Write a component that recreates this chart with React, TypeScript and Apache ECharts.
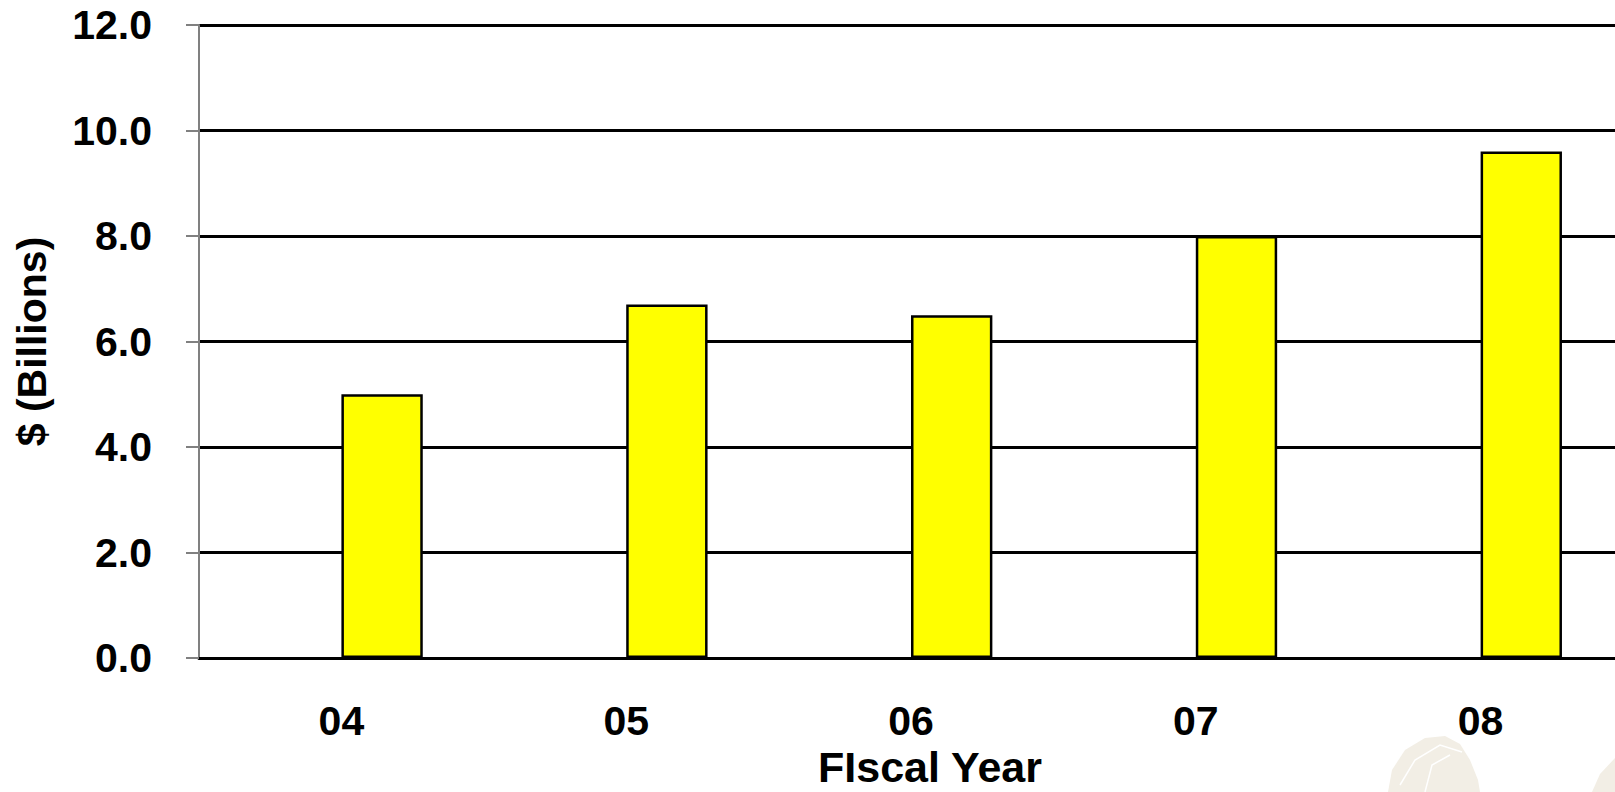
import React, { useEffect, useRef } from "react";
import * as echarts from "echarts";

// Fiscal years on the category axis
const fiscalYears = ["04", "05", "06", "07", "08"];
// Spending in billions of dollars per fiscal year
const spending = [5.0, 6.7, 6.5, 8.0, 9.6];
// Empty companion series, which keeps each bar in the right half of its slot
const placeholder = [null, null, null, null, null];
// Value axis range and step
const yMin = 0;
const yMax = 12;
const yStep = 2;

const font = "'Liberation Sans', Arial, Helvetica, sans-serif";

export default function App() {
  const ref = useRef<HTMLDivElement>(null);

  useEffect(() => {
    if (!ref.current) return;
    const chart = echarts.init(ref.current, null, { renderer: "svg" });
    chart.setOption({
      animation: false,
      backgroundColor: "#ffffff",
      grid: {
        left: 199,
        top: 25,
        bottom: 134,
        right: -8,
        containLabel: false,
        outerBoundsMode: "none",
      },
      xAxis: {
        type: "category",
        data: fiscalYears,
        name: "FIscal Year",
        nameLocation: "middle",
        nameGap: 91,
        nameTextStyle: {
          fontFamily: font,
          fontWeight: "bold",
          fontSize: 43,
          lineHeight: 34,
          color: "#000",
          verticalAlign: "top",
          padding: [0, 0, 0, 38],
        },
        axisLine: { show: true, lineStyle: { color: "#000", width: 3 } },
        axisTick: { show: false },
        axisLabel: {
          margin: 42,
          fontFamily: font,
          fontWeight: "bold",
          fontSize: 41,
          color: "#000",
        },
        splitLine: { show: false },
      },
      yAxis: {
        type: "value",
        min: yMin,
        max: yMax,
        interval: yStep,
        name: "$ (Billions)",
        nameLocation: "middle",
        nameRotate: 90,
        nameGap: 147,
        nameTextStyle: {
          fontFamily: font,
          fontWeight: "bold",
          fontSize: 41,
          color: "#000",
        },
        axisLine: { show: true, lineStyle: { color: "#808080", width: 2 } },
        axisTick: { show: true, length: 13, lineStyle: { color: "#808080", width: 2 } },
        axisLabel: {
          margin: 47,
          formatter: (v: number) => v.toFixed(1),
          fontFamily: font,
          fontWeight: "bold",
          fontSize: 41,
          color: "#000",
        },
        splitLine: { show: true, lineStyle: { color: "#000", width: 3 } },
      },
      graphic: [
        // faint seal in the lower right corner
        {
          type: "polygon",
          silent: true,
          z: -1,
          shape: {
            points: [
              [1388, 792], [1392, 770], [1405, 750], [1425, 738], [1445, 736],
              [1460, 744], [1470, 760], [1478, 780], [1480, 792],
            ],
          },
          style: { fill: "#F2EEE5" },
        },
        {
          type: "polyline",
          silent: true,
          z: -1,
          shape: { points: [[1400, 785], [1415, 760], [1440, 745], [1462, 752]] },
          style: { stroke: "#ffffff", lineWidth: 1.5, fill: "none" },
        },
        {
          type: "polyline",
          silent: true,
          z: -1,
          shape: { points: [[1425, 792], [1432, 765], [1450, 755]] },
          style: { stroke: "#ffffff", lineWidth: 1.5, fill: "none" },
        },
        {
          type: "polygon",
          silent: true,
          z: -1,
          shape: { points: [[1592, 792], [1600, 774], [1615, 758], [1615, 792]] },
          style: { fill: "#F2EEE5" },
        },
      ],
      series: [
        {
          type: "bar",
          data: placeholder,
          barGap: "0%",
          barCategoryGap: "42.86%",
          itemStyle: { color: "transparent" },
        },
        {
          type: "bar",
          data: spending,
          barGap: "0%",
          barCategoryGap: "42.86%",
          itemStyle: { color: "#FFFF00", borderColor: "#000", borderWidth: 2.5 },
        },
      ],
    });
    return () => chart.dispose();
  }, []);

  return (
    <div
      ref={ref}
      style={{ position: "absolute", left: 0, top: 0, width: 1615, height: 792 }}
    />
  );
}
